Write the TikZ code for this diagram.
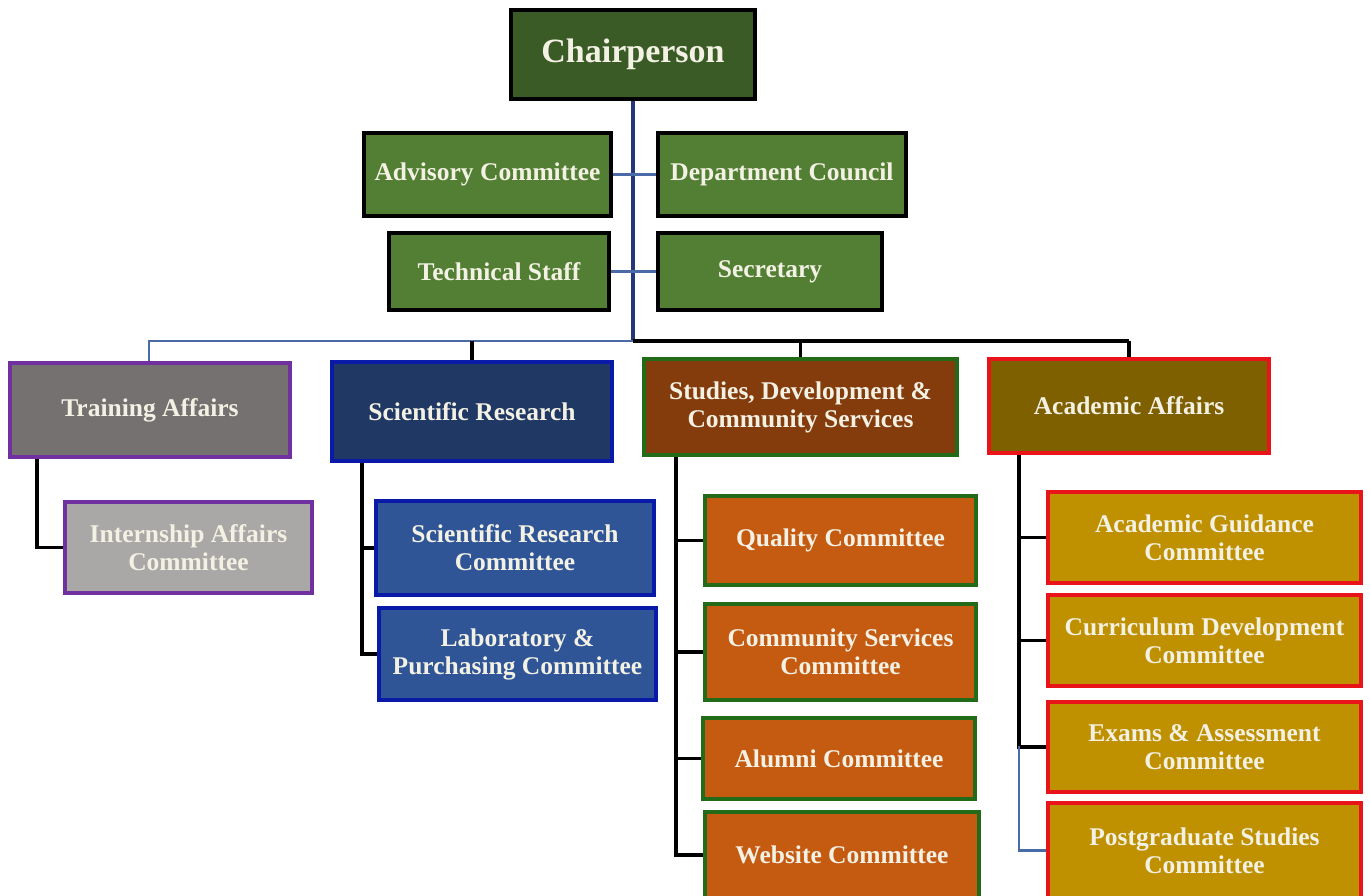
\documentclass[tikz,border=0pt]{standalone}
\usepackage{fontspec}
\setmainfont{Liberation Serif}
\definecolor{txt}{HTML}{F3F1E4}
\definecolor{chairfill}{HTML}{3A5A26}
\definecolor{grfill}{HTML}{527F33}
\definecolor{trfill}{HTML}{767171}
\definecolor{infill}{HTML}{AAA7A7}
\definecolor{purp}{HTML}{7030A0}
\definecolor{srfill}{HTML}{203864}
\definecolor{srcfill}{HTML}{2F5597}
\definecolor{blueb}{HTML}{0A1AA8}
\definecolor{sdfill}{HTML}{843C0C}
\definecolor{qfill}{HTML}{C55A11}
\definecolor{greenb}{HTML}{226B18}
\definecolor{aafill}{HTML}{7F6000}
\definecolor{agfill}{HTML}{BF9000}
\definecolor{redb}{HTML}{E8141A}
\definecolor{navyline}{HTML}{26367A}
\definecolor{lightline}{HTML}{4A6AA8}
\tikzset{
  box/.style={draw, line width=4pt, align=center, text=txt, inner sep=0pt,
    font=\bfseries\fontsize{25.5}{28}\selectfont},
  blackbox/.style={box, draw=black, line width=4.5pt},
  lineblk/.style={draw=black, line width=3.5pt},
  linenavy/.style={draw=navyline, line width=3.5pt},
  linelight/.style={draw=lightline, line width=2.2pt},
}
\begin{document}
\begin{tikzpicture}[x=1pt,y=-1pt]
\useasboundingbox (0,0) rectangle (1370,896);
\fill[white] (0,0) rectangle (1370,896);
\clip (0,0) rectangle (1370,896);

% coordinates
\coordinate (bus) at (633,341);
\coordinate (busL) at (149,341);
\coordinate (busR) at (1129,341);
\coordinate (tTr) at (37,0);
\coordinate (tSr) at (362,0);
\coordinate (tSd) at (676,0);
\coordinate (tAa) at (1019,0);
\coordinate (aaMid) at (1019,746);

% top
\node[blackbox, fill=chairfill, minimum width=244, minimum height=89,
  font=\bfseries\fontsize{34}{36}\selectfont] (chair) at (633,54.5) {\raisebox{-3pt}{Chairperson}};
\node[blackbox, fill=grfill, minimum width=247, minimum height=83] (adv) at (487.5,174.5) {Advisory Committee};
\node[blackbox, fill=grfill, minimum width=248, minimum height=83] (dept) at (782,174.5) {Department Council};
\node[blackbox, fill=grfill, minimum width=220, minimum height=77] (tech) at (499,271.5) {Technical Staff};
\node[blackbox, fill=grfill, minimum width=224, minimum height=77] (sec) at (770,271.5) {Secretary};

% level 2
\node[box, draw=purp, fill=trfill, minimum width=280, minimum height=94] (train) at (150,410) {Training Affairs};
\node[box, draw=blueb, fill=srfill, minimum width=280, minimum height=99] (sr) at (472,411.5) {Scientific Research};
\node[box, draw=greenb, fill=sdfill, minimum width=313, minimum height=96] (sdcs) at (800.5,407) {Studies, Development \&\\Community Services};
\node[box, draw=redb, fill=aafill, minimum width=280, minimum height=94] (aa) at (1129,406) {Academic Affairs};

% level 3
\node[box, draw=purp, fill=infill, minimum width=247, minimum height=91] (intern) at (188.5,547.5) {Internship Affairs\\Committee};
\node[box, draw=blueb, fill=srcfill, minimum width=278, minimum height=94] (src) at (515,548) {Scientific Research\\Committee};
\node[box, draw=blueb, fill=srcfill, minimum width=277, minimum height=92] (lab) at (517.5,654) {Laboratory \&\\Purchasing Committee};

\node[box, draw=greenb, fill=qfill, minimum width=271, minimum height=89] (q) at (840.5,540.5) {Quality Committee};
\node[box, draw=greenb, fill=qfill, minimum width=271, minimum height=96] (cs) at (840.5,652) {Community Services\\Committee};
\node[box, draw=greenb, fill=qfill, minimum width=272, minimum height=81] (al) at (839,758.5) {Alumni Committee};
\node[box, draw=greenb, fill=qfill, minimum width=274, minimum height=86] (web) at (842,855) {Website Committee};

\node[box, draw=redb, fill=agfill, minimum width=313, minimum height=91] (ag) at (1204.5,537.5) {Academic Guidance\\Committee};
\node[box, draw=redb, fill=agfill, minimum width=313, minimum height=91] (cd) at (1204.5,640.5) {Curriculum Development\\Committee};
\node[box, draw=redb, fill=agfill, minimum width=313, minimum height=90] (ea) at (1204.5,747) {Exams \& Assessment\\Committee};
\node[box, draw=redb, fill=agfill, minimum width=313, minimum height=95] (pg) at (1204.5,850.5) {Postgraduate Studies\\Committee};

% connectors
\path[linenavy] (chair.south) -- (bus);
\path[linelight] (adv.east) -- (dept.west);
\path[linelight] (tech.east) -- (sec.west);
\path[linelight] (bus) -- (busL) -- (train.north -| busL);
\path[lineblk] (bus) -- (busR);
\path[lineblk] (sr.north |- bus) -- (sr.north);
\path[lineblk] (sdcs.north |- bus) -- (sdcs.north);
\path[lineblk] (busR) -- (aa.north);

\path[lineblk] (train.south -| tTr) |- (intern.west);
\path[lineblk] (sr.south -| tSr) |- (lab.west);
\path[lineblk] (src.west -| tSr) -- (src.west);
\path[lineblk] (sdcs.south -| tSd) |- (web.west);
\path[lineblk] (q.west -| tSd) -- (q.west);
\path[lineblk] (cs.west -| tSd) -- (cs.west);
\path[lineblk] (al.west -| tSd) -- (al.west);
\path[lineblk] (aa.south -| tAa) |- (ea.west);
\path[lineblk] (ag.west -| tAa) -- (ag.west);
\path[lineblk] (cd.west -| tAa) -- (cd.west);
\path[linelight] (aaMid) |- (pg.west);
\end{tikzpicture}
\end{document}
